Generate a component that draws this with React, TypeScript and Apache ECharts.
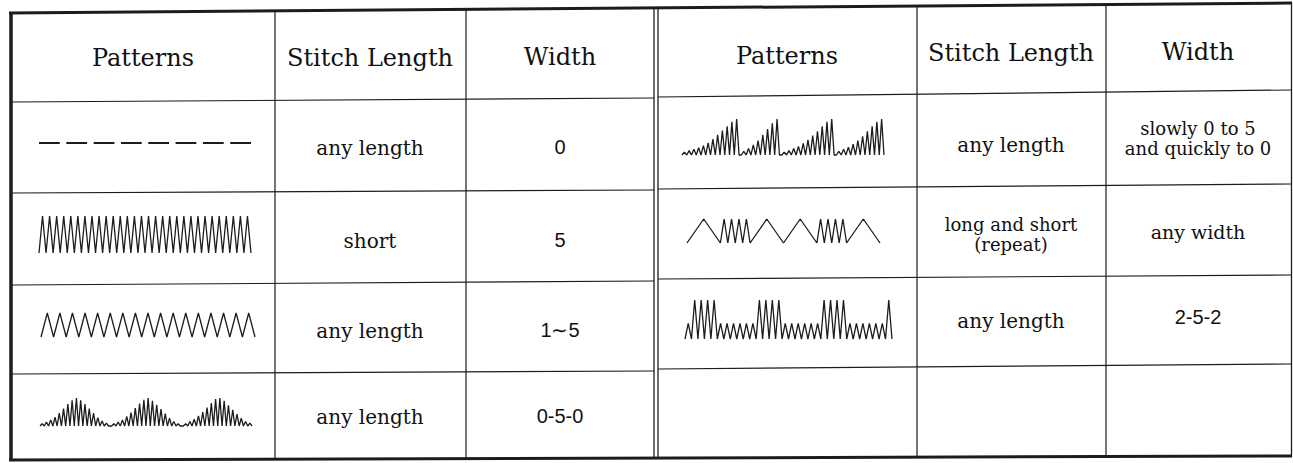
import React, { useEffect, useRef } from "react";
import * as echarts from "echarts";

// ---------- table texts ----------
const headerLabels = ["Patterns", "Stitch Length", "Width"];
const leftLengthLabels = ["any length", "short", "any length", "any length"];
const leftWidthLabels = ["0", "5", "1∼5", "0-5-0"];
const rightLengthLabels = ["any length", "long and short\n(repeat)", "any length", ""];
const rightWidthLabels = ["slowly 0 to 5\nand quickly to 0", "any width", "2-5-2", ""];

// ---------- stitch patterns (zigzag width of each peak, 0..5) ----------
const straightDashCount = 8;
const satinPeakWidths = [
  5, 5, 5, 5, 5, 5, 5, 5, 5, 5, 5, 5, 5, 5, 5, 5, 5, 5, 5, 5, 5, 5, 5, 5, 5, 5, 5, 5, 5, 5,
];
const zigzagPeakWidths = [5, 5, 5, 5, 5, 5, 5, 5, 5, 5, 5, 5, 5, 5, 5, 5, 5];
const bumpPeakWidths = [
  [0.4, 0.7, 1.1, 1.6, 2.3, 3.1, 3.9, 4.6, 5, 4.6, 3.9, 3.1, 2.3, 1.5, 0.9, 0.5],
  [0.4, 0.7, 1.1, 1.7, 2.4, 3.2, 4.0, 4.7, 5, 4.5, 3.8, 3.0, 2.2, 1.4, 0.8, 0.4],
  [0.4, 0.8, 1.2, 1.8, 2.5, 3.3, 4.1, 4.8, 5, 4.5, 3.7, 2.9, 2.1, 1.4, 0.8, 0.5],
];
const rampPeakWidths = [
  [0.4, 0.6, 0.8, 1.0, 1.3, 1.7, 2.2, 2.8, 3.4, 4.0, 4.6, 5],
  [0.5, 0.9, 1.4, 2.0, 2.8, 3.6, 4.4, 5],
  [0.4, 0.6, 0.9, 1.2, 1.6, 2.1, 2.7, 3.3, 4.0, 4.6, 5],
  [0.5, 0.8, 1.1, 1.5, 2.0, 2.6, 3.3, 4.0, 4.6, 5],
];
const longShortStitches = [
  "L", "L", "S", "S", "S", "S", "S", "S", "S", "S", "L", "L",
  "L", "L", "S", "S", "S", "S", "S", "S", "S", "S", "L", "L",
];
const stitchUnits: Record<string, number> = { L: 4.5, S: 1 };
const twoFiveTwoPeakWidths = [
  2, 5, 5, 5, 5, 2, 2, 2, 2, 2, 2, 5, 5, 5, 5, 2, 2, 2, 2, 2, 2, 5, 5, 5, 5, 2, 2, 2, 2, 2, 2, 5,
];

const INK = "#1c1c1c";
const SERIF = "DejaVu Serif";
const SANS = "Liberation Sans";

function zigzag(groups: number[][], gap: number): number[][] {
  const pts: number[][] = [[0, 0]];
  let x = 0;
  groups.forEach((g, gi) => {
    if (gi > 0) {
      x += gap;
      pts.push([x, 0]);
    }
    g.forEach((w) => {
      pts.push([x + 1, w]);
      pts.push([x + 2, 0]);
      x += 2;
    });
  });
  return pts;
}

function alternating(stitches: string[]): number[][] {
  const pts: number[][] = [[0, 0]];
  let x = 0;
  let up = true;
  stitches.forEach((s) => {
    x += stitchUnits[s];
    pts.push([x, up ? 5 : 0]);
    up = !up;
  });
  return pts;
}

export default function App() {
  const ref = useRef<HTMLDivElement>(null);

  useEffect(() => {
    document.body.style.margin = "0";
    const chart = echarts.init(ref.current!, undefined, { renderer: "svg" });

    const patterns = [
      { box: { left: 39, top: 216, width: 212, height: 37 }, pts: zigzag([satinPeakWidths], 0) },
      { box: { left: 41, top: 313, width: 214, height: 24 }, pts: zigzag([zigzagPeakWidths], 0) },
      { box: { left: 40, top: 398, width: 212, height: 28 }, pts: zigzag(bumpPeakWidths, 1.5) },
      { box: { left: 682, top: 119, width: 202, height: 36 }, pts: zigzag(rampPeakWidths, 1) },
      { box: { left: 687, top: 219, width: 193, height: 24 }, pts: alternating(longShortStitches) },
      { box: { left: 685, top: 300, width: 207, height: 39 }, pts: zigzag([twoFiveTwoPeakWidths], 0) },
    ];

    const grids: any[] = [];
    const xAxes: any[] = [];
    const yAxes: any[] = [];
    const series: any[] = [];

    // straight stitch (dashes)
    grids.push({ left: 39, top: 138, width: 212, height: 10 });
    xAxes.push({ type: "value", gridIndex: 0, min: 0, max: straightDashCount - 0.24, show: false });
    yAxes.push({ type: "value", gridIndex: 0, min: -1, max: 1, show: false });
    series.push({
      type: "lines",
      coordinateSystem: "cartesian2d",
      xAxisIndex: 0,
      yAxisIndex: 0,
      lineStyle: { color: INK, width: 2, opacity: 1, curveness: 0 },
      data: Array.from({ length: straightDashCount }, (_, i) => ({
        coords: [
          [i, 0],
          [i + 0.76, 0],
        ],
      })),
    });

    patterns.forEach((p, i) => {
      const gi = i + 1;
      const maxX = p.pts[p.pts.length - 1][0];
      grids.push({ ...p.box });
      xAxes.push({ type: "value", gridIndex: gi, min: 0, max: maxX, show: false });
      yAxes.push({ type: "value", gridIndex: gi, min: 0, max: 5, show: false });
      series.push({
        type: "line",
        xAxisIndex: gi,
        yAxisIndex: gi,
        data: p.pts,
        symbol: "none",
        clip: false,
        lineStyle: { color: INK, width: 1.3 },
      });
    });

    const line = (x1: number, y1: number, x2: number, y2: number, w: number) => ({
      type: "line",
      shape: { x1, y1, x2, y2 },
      style: { stroke: INK, lineWidth: w },
      silent: true,
    });

    const text = (
      t: string,
      x: number,
      y: number,
      size: number,
      family: string
    ) => ({
      type: "text",
      x,
      y,
      silent: true,
      style: {
        text: t,
        fill: "#111",
        fontSize: size,
        fontFamily: family,
        align: "center",
        verticalAlign: "middle",
        lineHeight: size + 2,
      },
    });

    const isNumeric = (s: string) => /^[0-9∼\-]+$/.test(s);

    const graphics: any[] = [
      // outer border
      line(9, 13, 1292, 3, 3),
      line(9, 460, 1292, 456, 3),
      line(11, 12, 11, 461, 3.5),
      line(1291.5, 3, 1291.5, 457, 1.3),
      // vertical separators
      line(275, 12, 275, 460, 1.2),
      line(466, 10, 466, 459, 1.2),
      line(654, 8, 654, 458, 1.3),
      line(658, 8, 658, 458, 1.3),
      line(917, 6, 917, 458, 1.2),
      line(1106, 5, 1106, 457, 1.2),
      // left half row lines
      line(12, 102, 654, 98, 1.2),
      line(12, 193, 654, 190, 1.2),
      line(12, 285, 654, 281, 1.2),
      line(12, 374, 654, 371, 1.2),
      // right half row lines
      line(658, 97, 1292, 90, 1.2),
      line(658, 189, 1292, 184, 1.2),
      line(658, 279, 1292, 275, 1.2),
      line(658, 369, 1292, 364, 1.2),
    ];

    const leftCols = [143, 370, 560];
    const rightCols = [787, 1011, 1198];
    const headerY = [[58, 58, 57], [56, 53, 52]];
    headerLabels.forEach((h, i) => {
      graphics.push(text(h, leftCols[i], headerY[0][i], 24, SERIF));
      graphics.push(text(h, rightCols[i], headerY[1][i], 24, SERIF));
    });

    const leftRowY = [148, 241, 331, 417];
    const rightRowY = [145, 234, 321, 410];
    leftLengthLabels.forEach((s, i) => graphics.push(text(s, leftCols[1], leftRowY[i], 20, SERIF)));
    leftWidthLabels.forEach((s, i) =>
      graphics.push(text(s, leftCols[2], leftRowY[i] - 1, 20, isNumeric(s) ? SANS : SERIF))
    );
    rightLengthLabels.forEach((s, i) => {
      if (s) {
        const multi = s.includes("\n");
        graphics.push(text(s, rightCols[1], rightRowY[i], multi ? 18 : 20, SERIF));
      }
    });
    const rightWidthY = [138, 232, 317, 410];
    rightWidthLabels.forEach((s, i) => {
      if (s) {
        const multi = s.includes("\n");
        graphics.push(
          text(s, rightCols[2], rightWidthY[i], isNumeric(s) ? 20 : multi ? 18 : 19, isNumeric(s) ? SANS : SERIF)
        );
      }
    });

    chart.setOption({
      animation: false,
      backgroundColor: "#ffffff",
      grid: grids,
      xAxis: xAxes,
      yAxis: yAxes,
      series,
      graphic: graphics,
    });

    return () => chart.dispose();
  }, []);

  return (
    <div
      ref={ref}
      style={{ position: "fixed", left: 0, top: 0, width: 1293, height: 463, background: "#fff" }}
    />
  );
}
